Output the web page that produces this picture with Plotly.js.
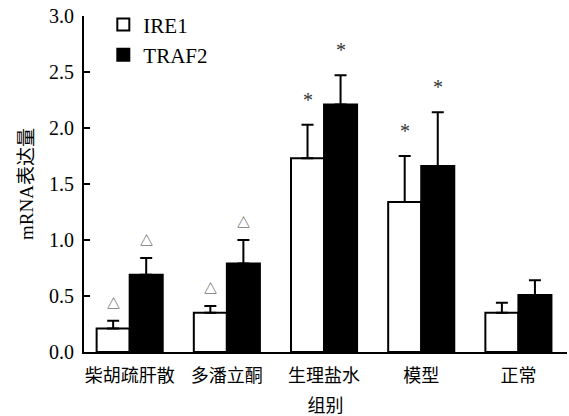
<!DOCTYPE html>
<html>
<head>
<meta charset="utf-8">
<script src="https://cdn.plot.ly/plotly-3.0.1.min.js"></script>
<style>html,body{margin:0;padding:0;background:#fff;}#chart{width:569px;height:416px;}</style>
</head>
<body>
<div id="chart"></div>
<script>
var categories = ['柴胡疏肝散', '多潘立酮', '生理盐水', '模型', '正常'];
var ire1 = [0.21, 0.35, 1.73, 1.34, 0.35];
var ire1Err = [0.07, 0.06, 0.30, 0.41, 0.09];
var traf2 = [0.69, 0.79, 2.21, 1.66, 0.51];
var traf2Err = [0.15, 0.21, 0.26, 0.48, 0.13];
var ire1Marks = ['△', '△', '*', '*', ''];
var traf2Marks = ['△', '△', '*', '*', ''];
var yTicks = [0, 0.5, 1.0, 1.5, 2.0, 2.5, 3.0];
var yTickText = ['0.0', '0.5', '1.0', '1.5', '2.0', '2.5', '3.0'];

var serif = '"Liberation Serif", "Times New Roman", "Noto Sans CJK SC", serif';
var cjk = '"Liberation Serif", "Noto Sans CJK SC", serif';

function err(arr) {
  return {type: 'data', array: arr, arrayminus: arr.map(function(){return 0;}), symmetric: false,
          color: '#000', thickness: 2, width: 6};
}

var traces = [
  {type: 'bar', name: 'IRE1', x: categories, y: ire1, error_y: err(ire1Err),
   marker: {color: '#fff', line: {color: '#000', width: 2}}},
  {type: 'bar', name: 'TRAF2', x: categories, y: traf2, error_y: err(traf2Err),
   marker: {color: '#000', line: {color: '#000', width: 2}}}
];

var annotations = [];
var off = 0.17;
function mark(x, y, t) {
  var star = t === '*';
  annotations.push({x: x, y: y, xref: 'x', yref: 'y', text: t, showarrow: false,
    yanchor: 'bottom', yshift: star ? 12 : 8,
    font: {family: serif, size: star ? 20 : 13, color: '#333'}});
}
categories.forEach(function(c, i) {
  if (ire1Marks[i]) mark(i - off, ire1[i] + ire1Err[i], ire1Marks[i]);
  if (traf2Marks[i]) mark(i + off, traf2[i] + traf2Err[i], traf2Marks[i]);
});

var layout = {
  width: 569, height: 416,
  margin: {l: 84, r: 2, t: 16, b: 64},
  paper_bgcolor: '#fff', plot_bgcolor: '#fff',
  barmode: 'group', bargap: 0.32, bargroupgap: 0,
  showlegend: true,
  legend: {x: 0.04, y: 1.035, xanchor: 'left', yanchor: 'top', bgcolor: 'rgba(0,0,0,0)',
           font: {family: serif, size: 21, color: '#000'}, tracegroupgap: 2},
  xaxis: {type: 'category', range: [-0.47, 4.5], showline: true, linecolor: '#000', linewidth: 2,
          ticks: '', showgrid: false, zeroline: false, ticklabelstandoff: 6,
          tickfont: {family: cjk, size: 18, color: '#000'},
          title: {text: '组别', font: {family: cjk, size: 18, color: '#000'}, standoff: 15}},
  yaxis: {range: [0, 3.0], tickvals: yTicks, ticktext: yTickText, showline: true, linecolor: '#000',
          linewidth: 2, ticks: 'inside', ticklen: 6, tickwidth: 2, tickcolor: '#000',
          showgrid: false, zeroline: false, ticklabelstandoff: 4,
          tickfont: {family: serif, size: 20, color: '#000'},
          title: {text: 'mRNA表达量', font: {family: cjk, size: 19, color: '#000'}, standoff: 10}},
  annotations: annotations
};

Plotly.newPlot('chart', traces, layout, {displayModeBar: false, staticPlot: true});
</script>
</body>
</html>
